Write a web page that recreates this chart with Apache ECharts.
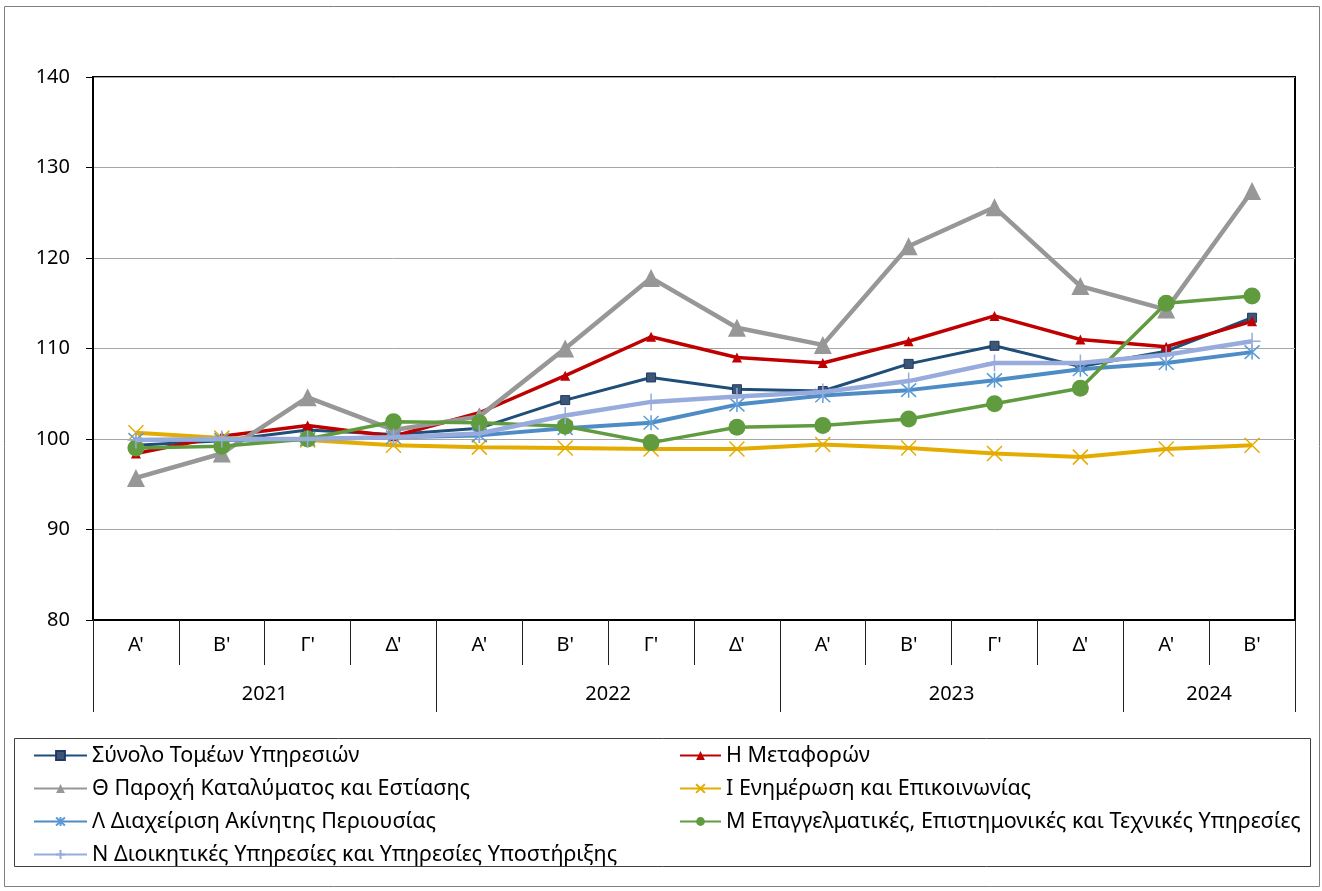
<!DOCTYPE html>
<html>
<head>
<meta charset="utf-8">
<script src="https://cdn.jsdelivr.net/npm/echarts@6/dist/echarts.min.js"></script>
<style>
html,body{margin:0;padding:0;background:#fff;}
#c{width:1322px;height:891px;}
</style>
</head>
<body>
<div id="c"></div>
<script>
// ---- data ----
const quarters = ["Α'", "Β'", "Γ'", "Δ'", "Α'", "Β'", "Γ'", "Δ'", "Α'", "Β'", "Γ'", "Δ'", "Α'", "Β'"];
const years = ['2021', '2022', '2023', '2024'];
const yearQuarterCounts = [4, 4, 4, 2];
const yTicks = [80, 90, 100, 110, 120, 130, 140];

const seriesNames = [
  'Σύνολο Τομέων Υπηρεσιών',
  'Η Μεταφορών',
  'Θ Παροχή Καταλύματος και Εστίασης',
  'Ι Ενημέρωση και Επικοινωνίας',
  'Λ Διαχείριση Ακίνητης Περιουσίας',
  'Μ Επαγγελματικές, Επιστημονικές και Τεχνικές Υπηρεσίες',
  'Ν Διοικητικές Υπηρεσίες και Υπηρεσίες Υποστήριξης'
];
const total     = [99.3, 99.8, 101.0, 100.5, 101.2, 104.3, 106.8, 105.5, 105.3, 108.3, 110.3, 108.0, 109.7, 113.4];
const transport = [98.4, 100.3, 101.5, 100.3, 102.9, 107.0, 111.3, 109.0, 108.4, 110.8, 113.6, 111.0, 110.2, 113.0];
const accommodation = [95.7, 98.4, 104.6, 101.0, 102.5, 110.0, 117.8, 112.3, 110.4, 121.3, 125.6, 116.9, 114.3, 127.4];
const information = [100.7, 100.1, 99.9, 99.3, 99.1, 99.0, 98.9, 98.9, 99.4, 99.0, 98.4, 98.0, 98.9, 99.3];
const realEstate = [99.9, 99.9, 100.0, 100.2, 100.4, 101.2, 101.8, 103.8, 104.8, 105.4, 106.5, 107.7, 108.4, 109.6];
const professional = [99.0, 99.2, 100.0, 101.9, 101.8, 101.4, 99.6, 101.3, 101.5, 102.2, 103.9, 105.6, 115.0, 115.8];
const administrative = [99.9, 100.0, 100.0, 100.2, 100.6, 102.6, 104.1, 104.7, 105.2, 106.4, 108.4, 108.4, 109.3, 110.8];

// ---- derived positions for the year level of the axis ----
const yearBounds = [0];
yearQuarterCounts.forEach(c => yearBounds.push(yearBounds[yearBounds.length - 1] + c));
const yearMids = years.map((y, i) => (yearBounds[i] + yearBounds[i + 1]) / 2);

const FONT = 'Noto Sans';
const FS = 20;
const LFS = 21.5;

const X_PATH = 'path://M0,0L10,10M10,0L0,10';
const AST_PATH = 'path://M5,0L5,10M0.5,0.5L9.5,9.5M9.5,0.5L0.5,9.5';
const PLUS_PATH = 'path://M5,0L5,10M0,5L10,5';

function mk(name, data, cfg) {
  return {
    name: name,
    type: 'line',
    data: data,
    xAxisIndex: 0,
    yAxisIndex: 0,
    symbol: cfg.symbol,
    symbolSize: cfg.size,
    showAllSymbol: true,
    lineStyle: { color: cfg.color, width: cfg.width },
    itemStyle: Object.assign({ color: cfg.mcolor || cfg.color }, cfg.item || {}),
    emphasis: { disabled: true },
    z: cfg.z
  };
}

const series = [
  mk(seriesNames[0], total, { color: '#1F4E79', mcolor: '#3E5676', symbol: 'rect', size: 9, width: 3, z: 2, item: { borderColor: '#1F3864', borderWidth: 1 } }),
  mk(seriesNames[1], transport, { color: '#C00000', symbol: 'triangle', size: 10, width: 3.5, z: 3 }),
  mk(seriesNames[2], accommodation, { color: '#979797', symbol: 'triangle', size: 18, width: 4.5, z: 4 }),
  mk(seriesNames[3], information, { color: '#E5AC00', symbol: X_PATH, size: 15, width: 4, z: 5, item: { color: 'none', borderColor: '#E5AC00', borderWidth: 1.5 } }),
  mk(seriesNames[4], realEstate, { color: '#4E8CC6', symbol: AST_PATH, size: 15, width: 4, z: 6, item: { color: 'none', borderColor: '#5B9BD5', borderWidth: 1.5 } }),
  mk(seriesNames[5], professional, { color: '#619B3F', symbol: 'circle', size: 17, width: 3.5, z: 7 }),
  mk(seriesNames[6], administrative, { color: '#97ABDC', symbol: PLUS_PATH, size: 17, width: 4.5, z: 8, item: { color: 'none', borderColor: '#97ABDC', borderWidth: 1.5 } })
];

const chart = echarts.init(document.getElementById('c'), null, { renderer: 'canvas' });
chart.setOption({
  animation: false,
  backgroundColor: '#fff',
  textStyle: { fontFamily: FONT, color: '#000' },
  grid: {
    left: 93, right: 27, top: 77, bottom: 271,
    show: true, borderColor: '#000', borderWidth: 2, containLabel: false
  },
  xAxis: [
    {
      type: 'category',
      data: quarters,
      boundaryGap: true,
      position: 'bottom',
      axisLine: { show: true, lineStyle: { color: '#000', width: 2 } },
      axisTick: { show: true, interval: 0, length: 45, lineStyle: { color: '#202020', width: 1 } },
      axisLabel: { interval: 0, margin: 15, fontSize: FS, fontFamily: FONT, color: '#000' },
      splitLine: { show: false }
    },
    {
      type: 'value',
      min: 0,
      max: yearBounds[yearBounds.length - 1],
      position: 'bottom',
      axisLine: { show: false },
      axisTick: { show: true, customValues: yearBounds, length: 92, lineStyle: { color: '#202020', width: 1 } },
      axisLabel: {
        show: true, customValues: yearMids, margin: 64, fontSize: FS, fontFamily: FONT, color: '#000',
        formatter: function (v) { const i = yearMids.indexOf(v); return i >= 0 ? years[i] : ''; }
      },
      splitLine: { show: false }
    }
  ],
  yAxis: {
    type: 'value',
    min: yTicks[0],
    max: yTicks[yTicks.length - 1],
    interval: yTicks[1] - yTicks[0],
    axisLine: { show: true, lineStyle: { color: '#000', width: 2 } },
    axisTick: { show: true, length: 7, lineStyle: { color: '#000', width: 1 } },
    axisLabel: { margin: 23, fontSize: FS, fontFamily: FONT, color: '#000' },
    splitLine: { show: true, lineStyle: { color: '#A6A6A6', width: 1 } }
  },
  legend: [
    {
      data: [seriesNames[0], seriesNames[2], seriesNames[4], seriesNames[6]],
      orient: 'vertical', left: 33, top: 744.5, padding: 0,
      itemWidth: 53, itemHeight: 11, itemGap: 11,
      textStyle: { fontSize: LFS, fontFamily: FONT, color: '#000' },
      selectedMode: false
    },
    {
      data: [seriesNames[1], seriesNames[3], seriesNames[5]],
      orient: 'vertical', left: 679, top: 744.5, padding: 0,
      itemWidth: 41, itemHeight: 11, itemGap: 11,
      textStyle: { fontSize: LFS, fontFamily: FONT, color: '#000' },
      selectedMode: false
    }
  ],
  graphic: [
    { type: 'rect', silent: true, z: -1, shape: { x: 4.5, y: 6.5, width: 1315, height: 880 }, style: { fill: 'none', stroke: '#808080', lineWidth: 1 } },
    { type: 'rect', silent: true, shape: { x: 14.5, y: 738.5, width: 1296, height: 128 }, style: { fill: 'none', stroke: '#404040', lineWidth: 1 } }
  ],
  series: series
});
</script>
</body>
</html>
